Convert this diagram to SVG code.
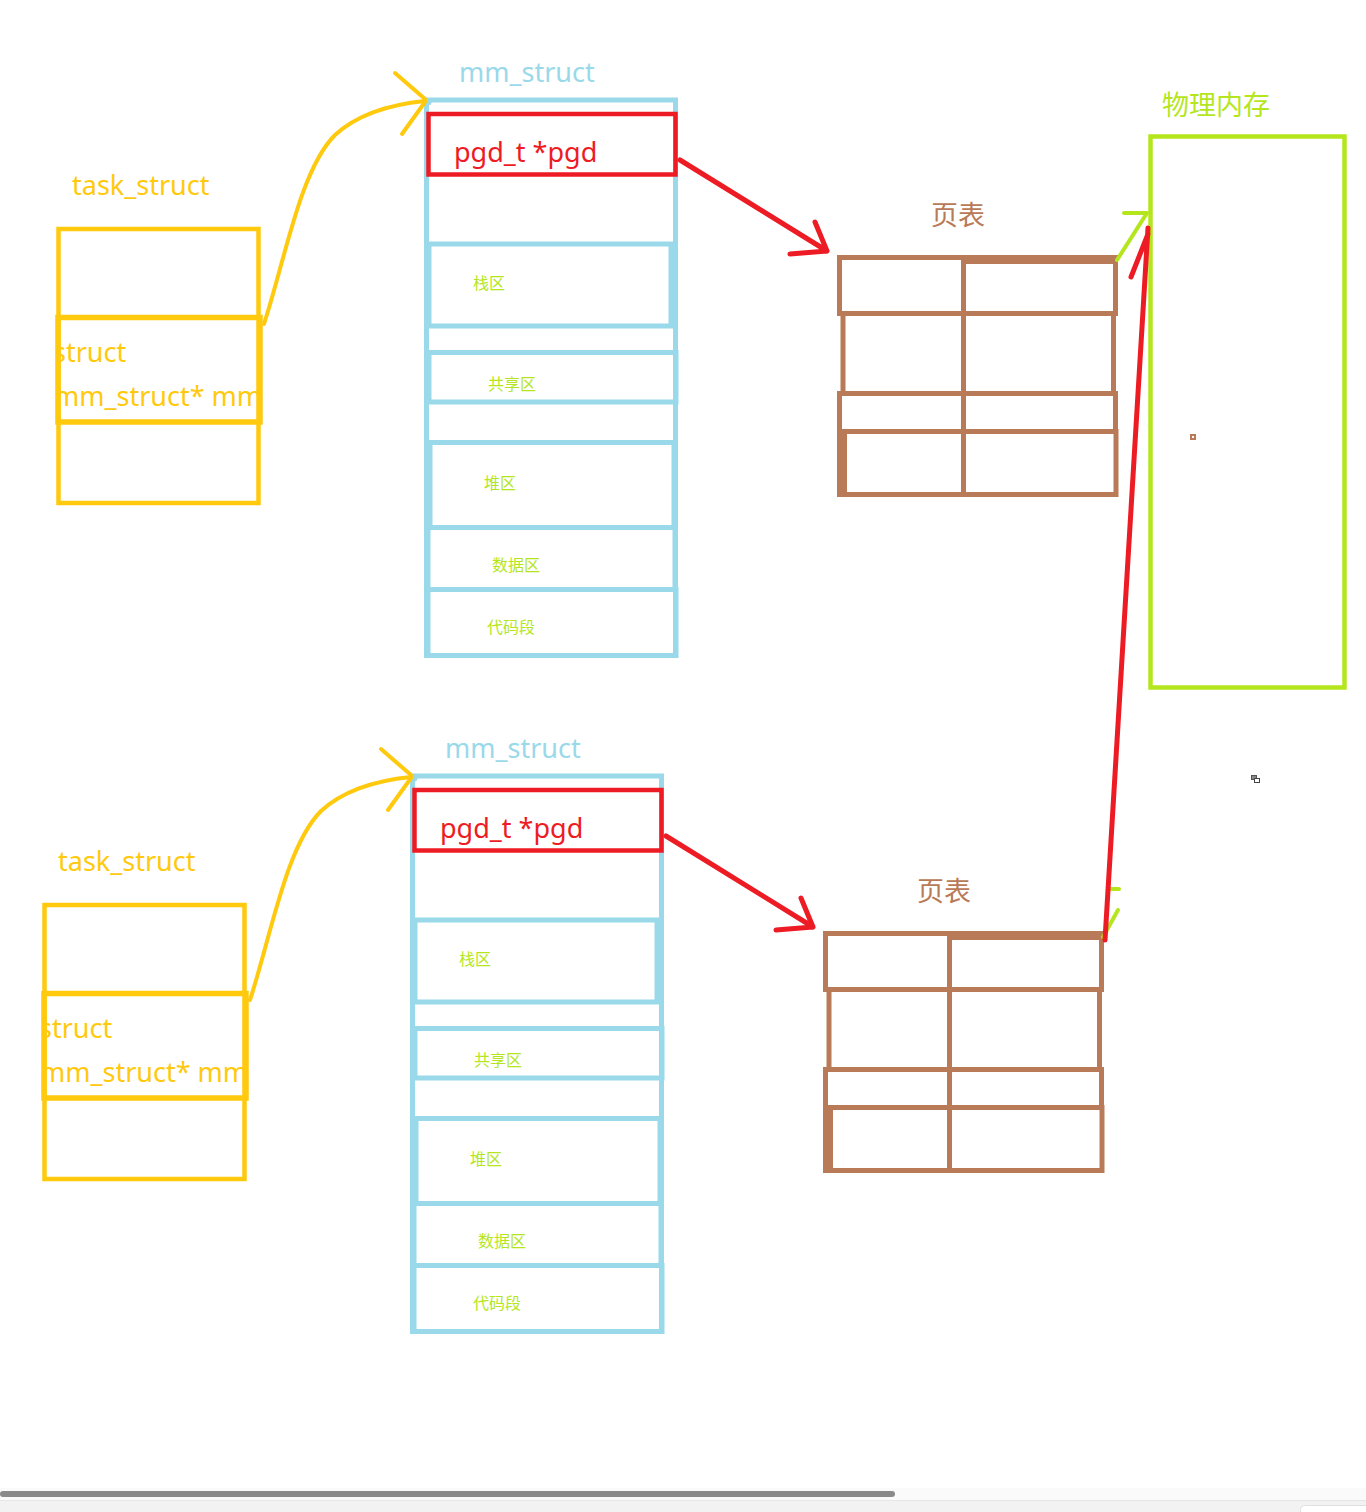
<svg xmlns="http://www.w3.org/2000/svg" width="1366" height="1512" viewBox="0 0 1366 1512">
<style>
.lat{font-family:"Noto Sans","Noto Sans CJK SC",sans-serif;}
.cjk{font-family:"Noto Sans CJK SC","Noto Sans",sans-serif;}
.yel{fill:#FFC90E}
.blu{fill:#99D9EA}
.red{fill:#ED1C24}
.brn{fill:#B97A57}
.lim{fill:#B5E61D}
.ybox{fill:none;stroke:#FFC90E}
.bbox{fill:none;stroke:#99D9EA;stroke-width:5}
.rbox{fill:none;stroke:#ED1C24;stroke-width:4.5}
.tbox{fill:none;stroke:#B97A57;stroke-width:5}
.gbox{fill:none;stroke:#B5E61D;stroke-width:4.5}
.seg{font-size:16px}
.big{font-size:27px}
.cy{fill:none;stroke:#FFC90E;stroke-width:4;stroke-linecap:round;stroke-linejoin:round}
.cr{fill:none;stroke:#ED1C24;stroke-width:5;stroke-linecap:round;stroke-linejoin:round}
.cg{fill:none;stroke:#B5E61D;stroke-width:4;stroke-linecap:round}
</style>
<defs>
<clipPath id="clipTask" clipPathUnits="userSpaceOnUse"><rect x="58" y="317" width="202" height="105"/></clipPath>
</defs>
<rect width="1366" height="1512" fill="#ffffff"/>

<!-- top process -->
<g id="task_struct_1">
<text class="lat yel big" x="72" y="195">task_struct</text>
<rect class="ybox" x="58.5" y="229" width="200" height="274" stroke-width="4.5"/>
<g clip-path="url(#clipTask)">
<text class="lat yel big" x="53" y="362">struct</text>
<text class="lat yel big" x="54" y="406">mm_struct* mm</text>
</g>
<rect class="ybox" x="58" y="317.5" width="202" height="104.5" stroke-width="5.5"/>
</g>

<g id="mm_struct_1">
<text class="lat blu big" x="459" y="82">mm_struct</text>
<rect class="bbox" x="426.5" y="100" width="249" height="555.5"/>
<rect class="bbox" x="429" y="244" width="242" height="82"/>
<rect class="bbox" x="429" y="352.5" width="247" height="49.5"/>
<rect class="bbox" x="430" y="442.5" width="244" height="85"/>
<rect class="bbox" x="428" y="527.5" width="247" height="62"/>
<rect class="bbox" x="428" y="589.5" width="248" height="66"/>
<circle cx="428" cy="102" r="3.5" fill="#99D9EA"/>
<text class="cjk lim seg" x="473" y="289">栈区</text>
<text class="cjk lim seg" x="488" y="390">共享区</text>
<text class="cjk lim seg" x="484" y="489">堆区</text>
<text class="cjk lim seg" x="492" y="571">数据区</text>
<text class="cjk lim seg" x="487" y="633">代码段</text>
<rect class="rbox" x="428.5" y="114" width="247" height="60.5"/>
<text class="lat red big" x="454" y="162">pgd_t *pgd</text>
</g>

<g id="page_table_1">
<text class="cjk brn big" x="931" y="225">页表</text>
<rect class="tbox" x="839.5" y="257.5" width="276" height="56"/>
<rect class="tbox" x="843" y="313.5" width="270.5" height="80"/>
<rect class="tbox" x="839.5" y="393.5" width="276" height="38"/>
<rect class="tbox" x="844" y="431.5" width="272" height="63"/>
<rect x="837" y="429" width="10" height="68" fill="#B97A57"/>
<line x1="963.5" y1="255" x2="963.5" y2="497" stroke="#B97A57" stroke-width="5"/>
<rect x="961" y="255" width="157" height="9" fill="#B97A57"/>
</g>

<!-- bottom process -->
<g id="task_struct_2" transform="translate(-14,676)">
<text class="lat yel big" x="72" y="195">task_struct</text>
<rect class="ybox" x="58.5" y="229" width="200" height="274" stroke-width="4.5"/>
<g clip-path="url(#clipTask)">
<text class="lat yel big" x="53" y="362">struct</text>
<text class="lat yel big" x="54" y="406">mm_struct* mm</text>
</g>
<rect class="ybox" x="58" y="317.5" width="202" height="104.5" stroke-width="5.5"/>
</g>

<g id="mm_struct_2" transform="translate(-14,676)">
<text class="lat blu big" x="459" y="82">mm_struct</text>
<rect class="bbox" x="426.5" y="100" width="249" height="555.5"/>
<rect class="bbox" x="429" y="244" width="242" height="82"/>
<rect class="bbox" x="429" y="352.5" width="247" height="49.5"/>
<rect class="bbox" x="430" y="442.5" width="244" height="85"/>
<rect class="bbox" x="428" y="527.5" width="247" height="62"/>
<rect class="bbox" x="428" y="589.5" width="248" height="66"/>
<circle cx="428" cy="102" r="3.5" fill="#99D9EA"/>
<text class="cjk lim seg" x="473" y="289">栈区</text>
<text class="cjk lim seg" x="488" y="390">共享区</text>
<text class="cjk lim seg" x="484" y="489">堆区</text>
<text class="cjk lim seg" x="492" y="571">数据区</text>
<text class="cjk lim seg" x="487" y="633">代码段</text>
<rect class="rbox" x="428.5" y="114" width="247" height="60.5"/>
<text class="lat red big" x="454" y="162">pgd_t *pgd</text>
</g>

<g id="page_table_2" transform="translate(-14,676)">
<text class="cjk brn big" x="931" y="225">页表</text>
<rect class="tbox" x="839.5" y="257.5" width="276" height="56"/>
<rect class="tbox" x="843" y="313.5" width="270.5" height="80"/>
<rect class="tbox" x="839.5" y="393.5" width="276" height="38"/>
<rect class="tbox" x="844" y="431.5" width="272" height="63"/>
<rect x="837" y="429" width="10" height="68" fill="#B97A57"/>
<line x1="963.5" y1="255" x2="963.5" y2="497" stroke="#B97A57" stroke-width="5"/>
<rect x="961" y="255" width="157" height="9" fill="#B97A57"/>
</g>

<g id="physical_memory">
<text class="cjk lim big" x="1162" y="115">物理内存</text>
<rect class="gbox" x="1150.5" y="136.5" width="194" height="551"/>
<rect x="1191" y="435" width="4" height="4" fill="#ffffff" stroke="#B97A57" stroke-width="2"/>
</g>

<g id="connectors">
<g id="top_links">
<path class="cy" d="M264 324 C285 260 300 170 335 135 C360 112 395 104 425 101"/>
<path class="cy" d="M395 73 L425 99 M402 134 L425 102"/>
<path class="cr" d="M680 160 L827 251 M815 222 L827 251 L790 254"/>
</g>
<g id="bottom_links" transform="translate(-14,676)">
<path class="cy" d="M264 324 C285 260 300 170 335 135 C360 112 395 104 425 101"/>
<path class="cy" d="M395 73 L425 99 M402 134 L425 102"/>
<path class="cr" d="M680 160 L827 251 M815 222 L827 251 L790 254"/>
</g>
<path class="cg" d="M1117 260 L1147 213 M1124 213 L1147 213"/>
<path class="cg" d="M1103 937 L1118 910 M1111 889 L1119 889" stroke-linecap="butt"/>
<path class="cr" d="M1105 940 L1148 228 M1131 277 L1148 234"/>
</g>

<!-- small icon -->
<g id="icon">
<rect x="1251.5" y="775.5" width="5" height="4" fill="#888888" stroke="#555555" stroke-width="1"/>
<rect x="1254.5" y="778.5" width="5" height="4" fill="#ffffff" stroke="#444444" stroke-width="1"/>
</g>

<!-- scrollbar -->
<rect x="0" y="1488" width="1366" height="12" fill="#fafafa"/>
<rect x="0" y="1491" width="895" height="6" rx="3" fill="#8a8a8a"/>
<rect x="0" y="1500" width="1366" height="12" fill="#f2f2f2"/>
<line x1="0" y1="1500.5" x2="1366" y2="1500.5" stroke="#e6e6e6" stroke-width="1"/>
<rect x="1300.5" y="1505.5" width="80" height="20" rx="4" fill="#ffffff" stroke="#e0e0e0" stroke-width="1"/>
</svg>
